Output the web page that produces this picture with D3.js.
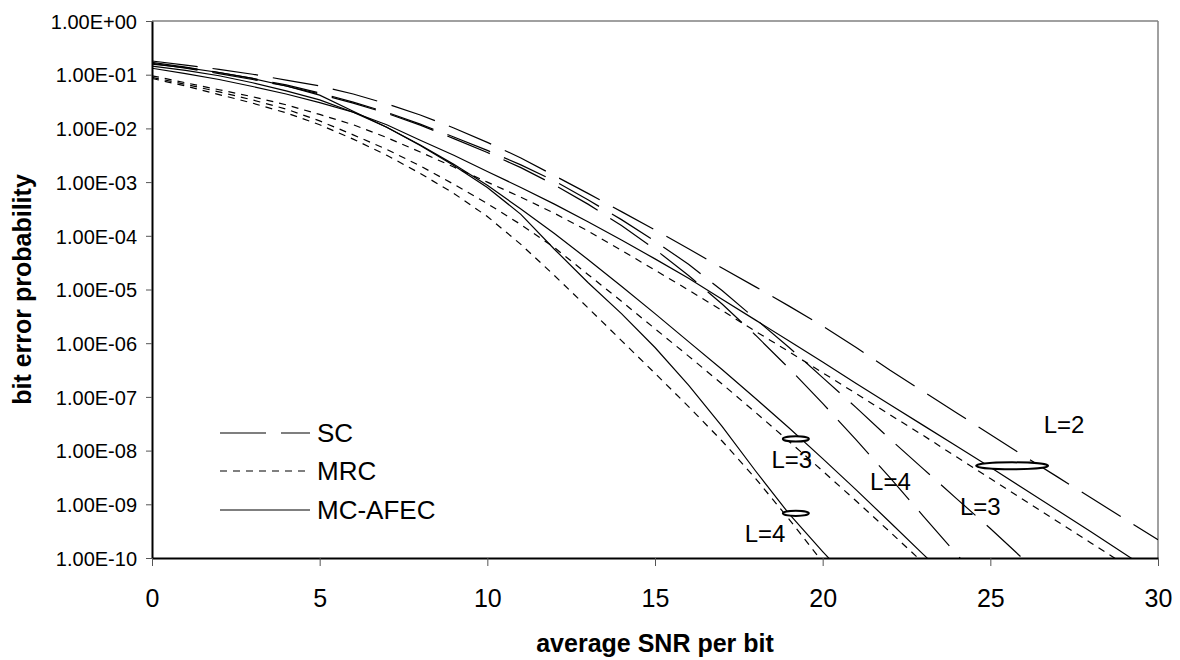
<!DOCTYPE html>
<html>
<head>
<meta charset="utf-8">
<script src="https://cdn.jsdelivr.net/npm/d3@7"></script>
<style>
  html, body { margin: 0; padding: 0; background: #fff; }
  svg { display: block; font-family: "Liberation Sans", Arial, sans-serif; }
</style>
</head>
<body>
<svg id="chart" width="1180" height="660"></svg>
<script>
// Average SNR per bit (dB)
const snrDb = [0,1,2,3,4,5,6,7,8,9,10,11,12,13,14,15,16,17,18,19,20,21,22,23,24,25,26,27,28,29,30];

// Selection combining (SC)
const scL2 = [1.80e-1,1.51e-1,1.26e-1,1.02e-1,7.94e-2,6.17e-2,4.37e-2,2.88e-2,1.78e-2,1.02e-2,5.50e-3,2.82e-3,1.32e-3,6.17e-4,2.82e-4,1.29e-4,5.75e-5,2.51e-5,1.12e-5,4.90e-6,2.09e-6,8.32e-7,3.16e-7,1.26e-7,5.01e-8,2.00e-8,7.94e-9,3.24e-9,1.32e-9,5.37e-10,2.19e-10];
const scL3 = [1.70e-1,1.38e-1,1.10e-1,8.51e-2,6.46e-2,4.57e-2,3.09e-2,2.00e-2,1.20e-2,6.92e-3,3.89e-3,2.09e-3,1.05e-3,4.68e-4,2.00e-4,7.94e-5,2.95e-5,9.55e-6,2.82e-6,8.32e-7,2.29e-7,6.31e-8,1.66e-8,4.57e-9,1.26e-9,3.55e-10,9.33e-11];
const scL4 = [1.62e-1,1.32e-1,1.05e-1,8.13e-2,6.17e-2,4.37e-2,2.95e-2,1.91e-2,1.15e-2,6.46e-3,3.55e-3,1.86e-3,8.91e-4,3.89e-4,1.55e-4,5.62e-5,1.82e-5,5.37e-6,1.41e-6,3.39e-7,7.59e-8,1.58e-8,3.16e-9,6.03e-10,1.17e-10,2.24e-11];

// Maximal ratio combining (MRC)
const mrcL2 = [9.55e-2,7.08e-2,5.25e-2,3.89e-2,2.75e-2,1.82e-2,1.17e-2,6.76e-3,3.63e-3,1.91e-3,1.00e-3,5.25e-4,2.63e-4,1.23e-4,5.37e-5,2.29e-5,9.77e-6,4.07e-6,1.66e-6,6.92e-7,2.82e-7,1.15e-7,4.68e-8,1.91e-8,7.59e-9,3.02e-9,1.20e-9,4.79e-10,1.91e-10,7.59e-11];
const mrcL3 = [8.91e-2,6.61e-2,4.79e-2,3.39e-2,2.29e-2,1.38e-2,7.59e-3,4.07e-3,2.00e-3,9.12e-4,3.98e-4,1.62e-4,6.03e-5,1.91e-5,6.03e-6,1.86e-6,5.75e-7,1.74e-7,5.13e-8,1.48e-8,4.17e-9,1.15e-9,3.09e-10,8.13e-11];
const mrcL4 = [8.51e-2,6.17e-2,4.27e-2,2.95e-2,1.95e-2,1.17e-2,6.31e-3,3.16e-3,1.45e-3,6.17e-4,2.29e-4,6.92e-5,1.82e-5,4.57e-6,1.12e-6,2.75e-7,6.61e-8,1.51e-8,3.02e-9,5.25e-10,8.32e-11];

// MC-AFEC
const afecL2 = [1.32e-1,1.05e-1,8.13e-2,6.03e-2,4.37e-2,3.02e-2,2.00e-2,1.17e-2,6.03e-3,3.16e-3,1.58e-3,7.94e-4,3.89e-4,1.82e-4,8.32e-5,3.72e-5,1.62e-5,6.61e-6,2.69e-6,1.10e-6,4.47e-7,1.78e-7,7.24e-8,2.95e-8,1.20e-8,4.90e-9,1.95e-9,7.76e-10,3.09e-10,1.20e-10,4.68e-11];
const afecL3 = [1.45e-1,1.20e-1,9.55e-2,7.08e-2,5.01e-2,3.39e-2,2.00e-2,1.05e-2,4.90e-3,2.14e-3,8.71e-4,3.16e-4,1.10e-4,3.63e-5,1.15e-5,3.55e-6,1.07e-6,3.24e-7,9.33e-8,2.63e-8,7.08e-9,1.86e-9,4.68e-10,1.17e-10,2.95e-11];
const afecL4 = [1.58e-1,1.35e-1,1.10e-1,8.51e-2,6.17e-2,4.17e-2,2.09e-2,1.05e-2,4.79e-3,2.04e-3,7.94e-4,2.51e-4,5.62e-5,1.35e-5,3.55e-6,8.32e-7,1.66e-7,2.82e-8,4.17e-9,6.61e-10,1.32e-10,2.82e-11];

// Axis ticks
const xTicks = [0,5,10,15,20,25,30];
const yTicks = [1e0,1e-1,1e-2,1e-3,1e-4,1e-5,1e-6,1e-7,1e-8,1e-9,1e-10];
const yTickLabels = ["1.00E+00","1.00E-01","1.00E-02","1.00E-03","1.00E-04","1.00E-05","1.00E-06","1.00E-07","1.00E-08","1.00E-09","1.00E-10"];

// Legend entries and diversity-order annotations
const legendNames = ["SC","MRC","MC-AFEC"];
const ringSnr = [25.65, 19.2, 19.2];
const ringBer = [5.2e-9, 1.65e-8, 6.8e-10];
const noteText = ["L=3","L=4","L=4","L=3","L=2"];
const noteSnr  = [19.08, 18.28, 22.02, 24.70, 27.2];
const noteBer  = [4.7e-9, 2.0e-10, 1.86e-9, 6.3e-10, 2.1e-8];

(function draw() {
  const svg = d3.select("#chart");
  const plotLeft = 152, plotRight = 1158, plotTop = 21, plotBottom = 558;

  const x = d3.scaleLinear().domain([0, 30]).range([plotLeft, plotRight]);
  const y = d3.scaleLog().domain([1e-10, 1]).range([plotBottom, plotTop]);

  const dashStyle = { sc: "46,15", mrc: "7,6", afec: null };

  const series = [
    { v: scL2, kind: "sc" }, { v: scL3, kind: "sc" }, { v: scL4, kind: "sc" },
    { v: mrcL2, kind: "mrc" }, { v: mrcL3, kind: "mrc" }, { v: mrcL4, kind: "mrc" },
    { v: afecL2, kind: "afec" }, { v: afecL3, kind: "afec" }, { v: afecL4, kind: "afec" }
  ];

  // frame: grey top and right borders
  svg.append("line").attr("x1", plotLeft).attr("x2", plotRight).attr("y1", plotTop).attr("y2", plotTop)
    .attr("stroke", "#808080").attr("stroke-width", 1.5);
  svg.append("line").attr("x1", plotRight).attr("x2", plotRight).attr("y1", plotTop).attr("y2", plotBottom)
    .attr("stroke", "#808080").attr("stroke-width", 1.5);

  svg.append("defs").append("clipPath").attr("id", "plotClip")
    .append("rect").attr("x", plotLeft).attr("y", plotTop)
    .attr("width", plotRight - plotLeft).attr("height", plotBottom - plotTop);

  const line = d3.line().x(d => x(d[0])).y(d => y(d[1]));

  const curves = svg.append("g").attr("clip-path", "url(#plotClip)");
  series.forEach(s => {
    const pts = s.v.map((p, i) => [snrDb[i], p]);
    const path = curves.append("path").datum(pts)
      .attr("d", line).attr("fill", "none")
      .attr("stroke", "#000").attr("stroke-width", 1.2);
    if (dashStyle[s.kind]) path.attr("stroke-dasharray", dashStyle[s.kind]);
  });

  // y axis
  const yAxis = svg.append("g").attr("transform", `translate(${plotLeft},0)`)
    .call(d3.axisLeft(y).tickValues(yTicks).tickSize(6).tickSizeOuter(0)
      .tickFormat((d, i) => yTickLabels[i]));
  yAxis.select(".domain").attr("stroke", "#000").attr("stroke-width", 2);
  yAxis.selectAll(".tick line").attr("stroke", "#555").attr("stroke-width", 1);
  yAxis.selectAll(".tick text").attr("x", -15).attr("dy", "0.36em")
    .attr("font-size", 20).attr("fill", "#000")
    .attr("font-family", "'Liberation Sans', Arial, sans-serif");

  // x axis
  const xAxis = svg.append("g").attr("transform", `translate(0,${plotBottom})`)
    .call(d3.axisBottom(x).tickValues(xTicks).tickSize(8).tickSizeOuter(0)
      .tickFormat(d3.format("d")));
  xAxis.select(".domain").attr("stroke", "#000").attr("stroke-width", 2);
  xAxis.selectAll(".tick line").attr("stroke", "#555").attr("stroke-width", 1);
  xAxis.selectAll(".tick text").attr("y", 49).attr("dy", 0)
    .attr("font-size", 25).attr("fill", "#000")
    .attr("font-family", "'Liberation Sans', Arial, sans-serif");

  // axis titles
  svg.append("text").attr("x", (plotLeft + plotRight) / 2).attr("y", 652)
    .attr("text-anchor", "middle").attr("font-size", 25).attr("font-weight", "bold")
    .text("average SNR per bit");
  svg.append("text")
    .attr("transform", `translate(31,${(plotTop + plotBottom) / 2}) rotate(-90)`)
    .attr("text-anchor", "middle").attr("font-size", 25).attr("font-weight", "bold")
    .text("bit error probability");

  // legend
  const legendKinds = ["sc", "mrc", "afec"];
  const legendY = [433, 471, 510];
  const legendEnd = [310, 305, 310];
  legendNames.forEach((name, i) => {
    const l = svg.append("line").attr("x1", 220).attr("x2", legendEnd[i])
      .attr("y1", legendY[i]).attr("y2", legendY[i])
      .attr("stroke", "#000").attr("stroke-width", 1.2);
    if (dashStyle[legendKinds[i]]) l.attr("stroke-dasharray", dashStyle[legendKinds[i]]);
    svg.append("text").attr("x", 317).attr("y", legendY[i]).attr("dy", "0.36em")
      .attr("font-size", 26).text(name);
  });

  // rings marking curve groups
  const ringRx = [36, 13, 13], ringRy = [3.5, 2.6, 2.6];
  ringSnr.forEach((s, i) => {
    svg.append("ellipse").attr("cx", x(s)).attr("cy", y(ringBer[i]))
      .attr("rx", ringRx[i]).attr("ry", ringRy[i])
      .attr("fill", "#fff").attr("stroke", "#000").attr("stroke-width", 2);
  });

  // diversity order labels
  noteText.forEach((t, i) => {
    svg.append("text").attr("x", x(noteSnr[i])).attr("y", y(noteBer[i]))
      .attr("text-anchor", "middle").attr("font-size", 24).text(t);
  });
})();
</script>
</body>
</html>
